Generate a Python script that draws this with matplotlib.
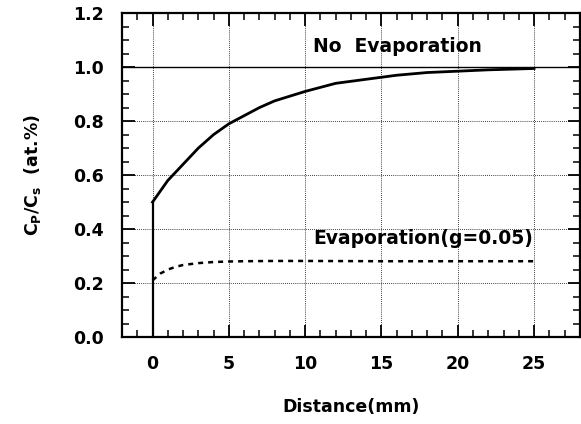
import matplotlib.pyplot as plt
from matplotlib.ticker import MultipleLocator

plt.rcParams['font.family'] = ['DejaVu Sans']
plt.rcParams['font.weight'] = 'bold'

# no evaporation profile
dist_no = [0, 0.5, 1, 1.5, 2, 3, 4, 5, 6, 7, 8, 10, 12, 14, 16, 18, 20, 22, 25]
conc_no = [0.50, 0.54, 0.58, 0.61, 0.64, 0.70, 0.75, 0.79, 0.82, 0.85, 0.875,
           0.91, 0.94, 0.955, 0.97, 0.98, 0.985, 0.99, 0.995]

# with evaporation, g = 0.05
dist_ev = [0, 0.5, 1, 1.5, 2, 3, 4, 5, 6, 8, 10, 15, 20, 25]
conc_ev = [0.21, 0.235, 0.25, 0.26, 0.267, 0.274, 0.278, 0.28, 0.281, 0.282,
           0.282, 0.281, 0.281, 0.281]

fig = plt.figure(figsize=(5.81, 4.24), dpi=100)
ax = fig.add_axes([0.21, 0.205, 0.788, 0.764])

# vertical start at x=0
ax.plot([0, 0], [0, conc_no[0]], color='black', lw=1.6)
ax.plot(dist_no, conc_no, color='black', lw=2)
ax.plot(dist_ev, conc_ev, color='black', lw=1.8, linestyle=(0, (2.0, 2.0)))
ax.axhline(1.0, color='black', lw=1)

ax.text(10.5, 1.078, 'No  Evaporation', fontsize=13.5, fontweight='bold', va='center')
ax.text(10.5, 0.367, 'Evaporation(g=0.05)', fontsize=13.5, fontweight='bold', va='center')

ax.set_xlim(-2, 28)
ax.set_ylim(0, 1.2)
ax.set_xticks([0, 5, 10, 15, 20, 25])
ax.set_yticks([0.0, 0.2, 0.4, 0.6, 0.8, 1.0, 1.2])
ax.xaxis.set_minor_locator(MultipleLocator(1))
ax.yaxis.set_minor_locator(MultipleLocator(0.05))
ax.set_yticklabels(['0.0', '0.2', '0.4', '0.6', '0.8', '1.0', '1.2'])

ax.grid(True, which='major', color='black', linestyle=(0, (1, 1.5)), lw=0.6)
ax.tick_params(which='both', direction='in', top=True, right=True, labelsize=12.5)
ax.tick_params(which='major', length=9, width=1.3)
ax.tick_params(which='minor', length=5, width=1.1)
ax.tick_params(axis='x', pad=13)
ax.tick_params(axis='y', pad=13)
for s in ax.spines.values():
    s.set_linewidth(1.6)

ax.set_xlabel('Distance(mm)', fontsize=12.5, fontweight='bold', labelpad=18)
ax.set_ylabel(r'C$_\mathbf{P}$/C$_\mathbf{s}$  (at.%)', fontsize=12.5,
              fontweight='bold', labelpad=22)

plt.savefig('out.png', dpi=100)
